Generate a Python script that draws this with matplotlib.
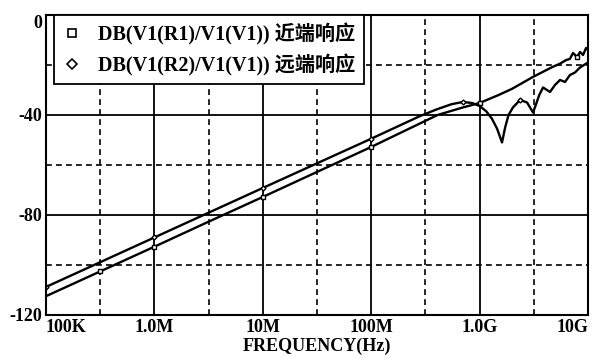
import matplotlib
matplotlib.use("Agg")
import matplotlib.pyplot as plt
from matplotlib.lines import Line2D

plt.rcParams['font.family'] = ['Liberation Serif', 'Noto Sans CJK SC']
plt.rcParams['font.weight'] = 'bold'
plt.rcParams['axes.labelweight'] = 'bold'

# near-end response DB(V1(R1)/V1(V1))
f_near = [1e5, 3.16e5, 1e6, 3.16e6, 1e7, 3.16e7, 1e8, 2e8, 4.1e8, 7e8,
          1e9, 1.5e9, 2e9, 3.1e9, 4.7e9, 5.5e9, 6.3e9, 6.8e9, 7.27e9,
          7.93e9, 8.44e9, 9.0e9, 9.6e9, 1e10]
near_db = [-112.5, -102.6, -92.7, -82.7, -72.8, -62.8, -52.8, -46.5, -40,
           -37, -35.2, -32, -29.5, -24.8, -20.8, -19.5, -18, -17.6, -15.2,
           -16.8, -14.8, -16, -13.2, -14]

# far-end response DB(V1(R2)/V1(V1))
f_far = [1e5, 1e6, 1e7, 1e8, 2.8e8, 4e8, 5.5e8, 7e8, 8.5e8, 1.0e9, 1.15e9,
         1.3e9, 1.45e9, 1.61e9, 1.72e9, 1.85e9, 2.03e9, 2.36e9, 2.74e9,
         3.11e9, 3.3e9, 3.55e9, 3.85e9, 4.46e9, 4.96e9, 5.52e9, 6.14e9,
         6.82e9, 7.59e9, 8.44e9, 1e10]
far_db = [-108.8, -89, -69.2, -49.5, -40.5, -37.8, -35.7, -34.8, -35.2,
          -36.4, -38.5, -41.5, -45.5, -51, -45, -40, -37, -34, -35, -39,
          -36, -32, -29, -30.8, -28, -26, -26.8, -24, -23, -21, -19]

x_major = [1e5, 1e6, 1e7, 1e8, 1e9, 1e10]
x_labels = ['100K', '1.0M', '10M', '100M', '1.0G', '10G']
x_minor = [3.16e5, 3.16e6, 3.16e7, 3.16e8, 3.16e9]
y_major = [0, -40, -80, -120]
y_minor = [-20, -60, -100]

fig = plt.figure(figsize=(5.94, 3.62), dpi=100)
ax = fig.add_axes([0.0774, 0.130, 0.9125, 0.8286])

ax.plot(f_near, near_db, color='black', lw=1.7, marker='s', ms=2.5,
        mfc='white', mec='black', markevery=(0.05, 0.18))
ax.plot(f_far, far_db, color='black', lw=1.7, marker='D', ms=2.5,
        mfc='white', mec='black', markevery=(0.01, 0.18))

ax.set_xscale('log')
ax.set_xlim(1e5, 1e10)
ax.set_ylim(-120, 0)
ax.set_xticks(x_major)
ax.set_xticks(x_minor, minor=True)
ax.set_xticklabels(x_labels, fontsize=13)
ax.set_xticklabels([], minor=True)
ax.set_yticks(y_major)
ax.set_yticks(y_minor, minor=True)
ax.set_yticklabels([str(v) for v in y_major], fontsize=13)
ax.tick_params(which='both', length=0)
ax.tick_params(axis='x', pad=3)
ax.tick_params(axis='y', pad=3)

ax.grid(True, which='major', color='black', lw=1.3, ls='-')
ax.grid(True, which='minor', color='black', lw=1.2, ls=(0, (3.5, 2.5)))
ax.set_axisbelow(True)
for s in ax.spines.values():
    s.set_linewidth(1.5)

xl = ax.get_xticklabels()
xl[0].set_horizontalalignment('left')
xl[-1].set_horizontalalignment('right')
yl = ax.get_yticklabels()
yl[0].set_verticalalignment('top')

ax.set_xlabel('FREQUENCY(Hz)', fontsize=13, fontweight='bold', labelpad=1)

handles = [
    Line2D([], [], ls='none', marker='s', ms=6, mfc='white', mec='black', mew=1.2),
    Line2D([], [], ls='none', marker='D', ms=5.5, mfc='white', mec='black', mew=1.2),
]
labels = ['DB(V1(R1)/V1(V1)) 近端响应', 'DB(V1(R2)/V1(V1)) 远端响应']
leg = ax.legend(handles, labels, loc='upper left', bbox_to_anchor=(0.0148, 1.0),
                borderaxespad=0, fancybox=False, framealpha=1, edgecolor='black',
                prop={'size': 14.5, 'weight': 'bold'}, handlelength=1.0,
                handletextpad=0.8, labelspacing=0.45, borderpad=0.4)
leg.get_frame().set_linewidth(1.3)

fig.savefig('out.png', dpi=100)
